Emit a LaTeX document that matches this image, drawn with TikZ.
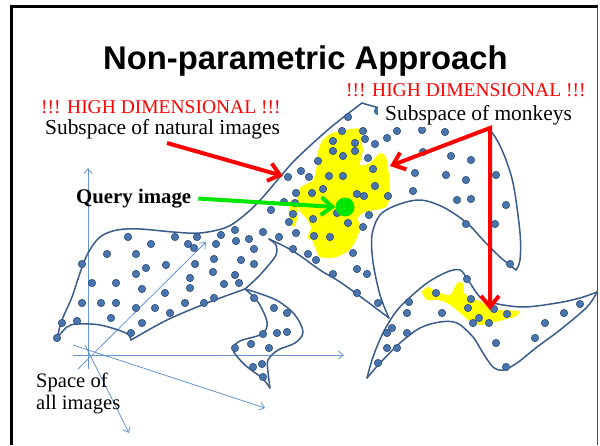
\documentclass[tikz,border=0pt]{standalone}
\usepackage{fontspec}
\setmainfont{Liberation Serif}
\newfontfamily\titlefont{Liberation Sans}
\usetikzlibrary{arrows.meta}
\definecolor{contour}{RGB}{59,92,138}
\definecolor{dotfill}{RGB}{74,116,172}
\definecolor{dotedge}{RGB}{45,78,125}
\definecolor{axisblue}{RGB}{100,150,210}
\definecolor{hlyellow}{RGB}{255,255,0}
\definecolor{qgreen}{RGB}{0,230,0}
\definecolor{hdred}{RGB}{255,0,0}
\begin{document}
\begin{tikzpicture}[x=1pt,y=-1pt,
  blob/.style={draw=contour, line width=1.5pt, line cap=round, line join=round},
  axisline/.style={draw=axisblue, line width=0.8pt, -{Straight Barb[length=5pt,width=8pt]}},
  redarrow/.style={draw=hdred, line width=4pt, line join=miter, {Straight Barb[length=11pt,width=18pt]}-{Straight Barb[length=11pt,width=18pt]}},
  redarrowone/.style={draw=hdred, line width=4pt, -{Straight Barb[length=11pt,width=18pt]}},
  greenarrow/.style={draw=qgreen, line width=4pt, -{Straight Barb[length=11pt,width=18pt]}},
  hdtext/.style={text=hdred, inner sep=0pt, anchor=base west, font=\fontsize{19.5}{22}\selectfont},
  lbl/.style={inner sep=0pt, anchor=base west, font=\fontsize{21.4}{24}\selectfont},
  hl/.style={fill=hlyellow, draw=none}
]
\useasboundingbox (0,0) rectangle (600,445);
\fill[white] (0,0) rectangle (600,445);

% frame
\draw[line width=3pt] (11.5,445) -- (11.5,6.5) -- (598,6.5);
\draw[line width=1pt, black!70] (597,6.5) -- (597,445);

% yellow highlights
\fill[hl] plot[smooth cycle, tension=0.45] coordinates {(340,131) (352,129) (360,129) (361,140) (363,150) (360,165) (370,163) (380,153) (386,157) (389,175) (390,193) (386,207) (365,212) (358,218) (360,228) (355,242) (347,252) (333,258) (320,257) (316,250) (312,240) (307,238) (311,228) (306,218) (299,210) (297,197) (301,187) (313,180) (317,165) (318,152) (322,141) (330,134)};
\fill[hl] plot[smooth cycle, tension=0.5] coordinates {(291,200) (297,203) (298,215) (294,227) (289,218)};
\fill[hl] plot[smooth cycle, tension=0.4] coordinates {(422,292) (428,287) (437,292) (450,295) (457,283) (463,283) (464,293) (472,298) (482,302) (488,307) (498,310) (518,311) (517,316) (503,320) (492,323) (480,325) (471,322) (460,313) (449,304) (438,300) (427,300)};

% axes
\coordinate (av0) at (88,369); \coordinate (av1) at (88,168);
\coordinate (ah0) at (73,355); \coordinate (ah1) at (344,355);
\coordinate (ad0) at (78,369); \coordinate (ad1) at (206,242);
\coordinate (ae0) at (73,345); \coordinate (ae1) at (265,408);
\coordinate (af0) at (85,345); \coordinate (af1) at (129,433);
\draw[axisline] (av0) -- (av1);
\draw[axisline] (ah0) -- (ah1);
\draw[axisline] (ad0) -- (ad1);
\draw[axisline] (ae0) -- (ae1);
\draw[axisline] (af0) -- (af1);

% big blob (natural images)
\draw[blob] plot[smooth, tension=0.55] coordinates {(57,338) (62,320) (72,297) (80,273) (88,253) (100,237) (117,230) (140,229) (173,232) (200,233) (227,227) (247,213) (263,197) (280,177) (297,158) (330,128) (362,103)};
\draw[blob] plot[smooth, tension=0.55] coordinates {(362,103) (390,110) (440,114) (476,120) (490,130) (502,150) (513,183) (520,233) (520,260) (516,270)};
\draw[blob] plot[smooth, tension=0.55] coordinates {(516,270) (500,257) (483,240) (467,223) (443,207) (420,200) (397,205) (380,215) (372,235) (373,262) (380,295) (389,318)};
\draw[blob] plot[smooth, tension=0.55] coordinates {(389,318) (365,300) (340,282) (320,270) (293,251) (269,239)};
\draw[blob] plot[smooth, tension=0.55] coordinates {(269,239) (276,245) (276,255) (267,267) (257,278) (245,289)};
\draw[blob] plot[smooth, tension=0.55] coordinates {(245,289) (207,303) (167,320) (131,340)};
\draw[blob] plot[smooth, tension=0.55] coordinates {(131,340) (126,333) (100,325) (77,324) (67,327) (57,338)};
% leg
\draw[blob] plot[smooth, tension=0.55] coordinates {(245,289) (258,302) (267,322) (262,334) (240,341) (233,350) (245,365) (262,378) (270,388)};
\draw[blob] plot[smooth, tension=0.55] coordinates {(245,289) (258,293) (278,301) (295,315) (303,332) (295,343) (278,350) (268,360) (268,372) (270,388)};

% lower right blob
\draw[blob] plot[smooth, tension=0.55] coordinates {(367,378) (373,357) (383,333) (395,313) (407,300) (427,283) (447,272) (460,270) (468,280) (480,297) (493,303) (523,307) (557,303) (580,298) (597,292)};
\draw[blob] plot[smooth, tension=0.55] coordinates {(597,292) (587,307) (560,330) (537,347) (517,363) (503,370) (493,367) (483,353) (473,337) (457,323) (440,322) (420,328) (400,343) (380,363) (367,378)};

% dots
\foreach \px/\py in {
 288/177,296/193,284/202,271/210,293/214,289/222,235/230,263/232,221/235,279/237,296/233,128/237,175/237,197/237,151/244,188/244,216/244,236/241,249/239,194/248,254/249,293/249,107/254,136/254,82/264,214/259,241/260,166/265,195/264,254/264,146/268,136/274,213/272,235/275,92/283,116/283,190/278,224/284,239/283,142/289,190/288,165/293,214/298,254/298,82/303,101/303,116/303,136/308,155/308,185/303,204/303,170/313,111/318,142/323,77/321,62/323,57/338,131/333,
 274/308,287/313,277/333,287/332,263/334,251/344,269/348,235/348,262/364,253/367,263/377,
 348/117,342/131,363/131,365/139,387/138,333/141,355/143,375/144,355/151,333/151,343/156,368/158,318/161,373/169,301/171,309/177,329/176,343/176,323/189,375/186,312/193,357/194,364/196,388/196,415/173,413/191,295/203,337/213,313/219,348/223,369/215,363/227,314/236,330/237,308/254,316/260,353/253,357/269,367/274,333/274,
 378/111,445/132,422/130,397/131,423/152,451/156,471/160,446/175,466/180,496/175,457/200,471/199,506/205,466/224,495/224,510/264,357/293,467/279,436/293,378/303,
 409/302,407/313,442/313,471/299,468/308,479/318,473/323,489/323,494/309,507/314,564/313,580/304,545/323,535/338,496/343,506/367,392/328,387/333,407/333,387/348,397/348,378/363}
 \filldraw[fill=dotfill, draw=dotedge, line width=0.6pt] (\px,\py) circle (3.7pt);

% labels
\node[font=\titlefont\bfseries\fontsize{32.8}{36}\selectfont, anchor=base west, inner sep=0pt] (title) at (103,69) {Non-parametric Approach};
\node[hdtext] (hdl) at (41,113.5) {!!! HIGH DIMENSIONAL !!!};
\node[lbl, font=\fontsize{21.4}{24}\selectfont] (nat) at (45,134) {Subspace of natural images};
\node[hdtext] (hdr) at (346,96) {!!! HIGH DIMENSIONAL !!!};
\node[lbl, fill=white, inner xsep=7pt, inner ysep=2.5pt] (mk) at (378,120) {Subspace of monkeys};
\node[lbl, font=\bfseries\fontsize{20.8}{24}\selectfont] (q) at (76,203) {Query image};
\node[lbl, font=\fontsize{20.6}{24}\selectfont] (sp1) at (36,387) {Space of};
\node[lbl, font=\fontsize{20.6}{24}\selectfont] (sp2) at (36,409) {all images};

% query point
\node[circle, fill=qgreen, minimum size=19pt, inner sep=0pt] (g) at (345,207) {};
\draw[greenarrow, shorten <=7pt] (q.east) -- (g.west);

% red arrows
\coordinate (r1s) at (167,143);
\coordinate (r1t) at (283,176);
\draw[redarrowone] (r1s) -- (r1t);
\coordinate (mc) at (490,128);
\coordinate (mt1) at (390,166);
\coordinate (mt2) at (490,310);
\draw[redarrow] (mt1) -- (mc) -- (mt2);
\end{tikzpicture}
\end{document}
